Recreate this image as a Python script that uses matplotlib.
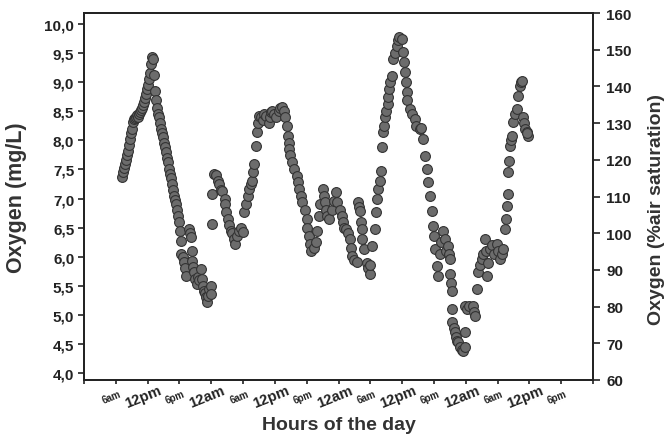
import matplotlib
matplotlib.use("Agg")
import matplotlib.pyplot as plt
from matplotlib.transforms import ScaledTranslation

plt.rcParams['font.family'] = ['Liberation Sans', 'DejaVu Sans']
plt.rcParams['font.weight'] = 'bold'

# ---- data (hours since first midnight, oxygen mg/L) ----
hours = [
    7.2, 7.4, 7.6, 7.7, 7.9, 8.1, 8.3, 8.5, 8.7, 8.9, 9.1, 9.3, 9.5, 9.6, 9.8, 10.0, 10.2, 10.4, 10.6, 10.8,
    11.0, 11.2, 11.3, 11.5, 11.7, 11.9, 12.1, 12.3, 12.5, 12.7, 12.85, 13.0, 13.2, 13.4, 13.6, 13.8, 14.0, 14.2,
    14.4, 14.5, 14.7, 14.9, 15.1, 15.3, 15.5, 15.7, 15.9, 16.1, 16.2, 16.4, 16.6, 16.8, 17.0, 17.2, 17.4, 17.6,
    17.8, 17.9, 18.1, 18.3, 18.3, 18.6, 18.9, 19.1, 19.3, 19.8, 20.0, 20.2, 20.4, 20.4, 20.6, 20.8, 21.0, 21.3,
    21.5, 21.7, 22.1, 22.3, 22.5, 22.7, 22.9, 23.1, 23.2, 23.3, 23.6, 24.0, 24.0,
    24.2, 24.2, 24.6, 24.9, 25.3, 25.5, 25.9, 26.1, 26.5, 26.6, 26.8, 27.2, 27.4, 27.8, 28.0, 28.35, 28.5, 28.9,
    29.3, 29.7, 29.9, 30.2, 30.6, 31.0, 31.2, 31.5, 31.75, 31.9, 32.1, 32.5, 32.7, 32.9, 33.1, 33.4, 33.8, 34.0,
    34.4, 34.8, 35.0, 35.3, 35.5, 35.9, 36.3, 36.7, 37.0, 37.4, 37.8, 38.0, 38.2, 38.4, 38.6, 38.7, 38.9, 39.3,
    39.7, 40.1, 40.3, 40.6, 41.0, 41.2, 41.6, 42.0, 42.1, 42.5, 42.7, 42.9, 43.3, 43.8, 44.0, 44.4, 44.6, 45.0,
    45.2, 45.4, 45.7, 45.9, 46.3, 46.7, 47.1, 47.6, 47.8, 48.2, 48.6, 48.9, 49.1, 49.5, 49.7, 50.1, 50.3, 50.6,
    51.0, 51.4, 51.6, 51.8, 52.0, 52.2, 52.35, 52.5, 52.9, 53.3, 53.5, 53.9, 54.0, 54.4, 54.8, 55.0, 55.2, 55.4,
    55.75, 56.1, 56.15, 56.3, 56.5, 56.7, 56.9, 57.3, 57.4, 57.6, 57.8, 58.0, 58.2, 58.6, 59.0, 59.3, 59.5, 59.9,
    60.1, 60.3, 60.5, 60.7, 60.85, 61.0, 61.4, 61.8, 62.4, 62.7, 63.3,
    63.5, 63.9, 64.25, 64.6, 64.8, 65.2, 65.6, 65.8, 66.1, 66.15, 66.5, 66.7, 67.1, 67.3, 67.65, 68.0, 68.2, 68.6,
    68.8, 69.0, 69.0, 69.2, 69.35, 69.4, 69.5, 69.7, 69.9, 70.1, 70.3, 70.5, 70.9, 71.2, 71.4, 71.8, 71.8, 71.85,
    72.2, 72.6, 73.3, 73.5, 73.7, 74.1, 74.3, 74.65, 75.0, 75.2, 75.6, 75.8, 76.0, 76.2, 76.5, 76.9, 77.3, 77.9,
    78.1, 78.4, 78.8, 79.0, 79.4, 79.6, 79.75, 79.9, 79.95, 80.1, 80.3, 80.5, 80.7, 80.9, 81.3, 81.6, 81.8, 82.2,
    82.4, 82.6, 82.8, 83.0, 83.2, 83.5, 83.7, 83.6,
]
oxygen_mgL = [
    7.37, 7.45, 7.52, 7.60, 7.66, 7.74, 7.82, 7.92, 8.02, 8.12, 8.20, 8.32, 8.36, 8.38, 8.40, 8.43, 8.40, 8.46, 8.48, 8.52,
    8.55, 8.60, 8.66, 8.72, 8.80, 8.88, 8.96, 9.06, 9.15, 9.32, 9.43, 9.40, 9.12, 8.85, 8.70, 8.55, 8.46, 8.40,
    8.30, 8.20, 8.12, 8.05, 7.95, 7.88, 7.80, 7.70, 7.62, 7.50, 7.42, 7.35, 7.25, 7.15, 7.05, 6.98, 6.90, 6.80,
    6.70, 6.60, 6.45, 6.27, 6.05, 6.00, 5.91, 5.80, 5.67, 6.48, 6.40, 6.34, 6.10, 5.93, 5.82, 5.74, 5.62, 5.53,
    5.65, 5.60, 5.79, 5.62, 5.50, 5.41, 5.38, 5.30, 5.22, 5.33, 5.45, 5.50, 5.36,
    6.56, 7.08, 7.42, 7.40, 7.30, 7.25, 7.15, 7.13, 7.00, 6.90, 6.77, 6.65, 6.55, 6.45, 6.40, 6.30, 6.22, 6.35,
    6.45, 6.50, 6.42, 6.77, 6.90, 7.05, 7.16, 7.25, 7.30, 7.45, 7.60, 7.90, 8.14, 8.30, 8.42, 8.40, 8.35, 8.45,
    8.42, 8.30, 8.40, 8.48, 8.50, 8.45, 8.40, 8.50, 8.55, 8.57, 8.50, 8.40, 8.25, 8.07, 7.95, 7.85, 7.75, 7.63,
    7.50, 7.39, 7.28, 7.16, 7.05, 6.94, 6.80, 6.65, 6.50, 6.36, 6.22, 6.10, 6.15, 6.25, 6.45, 6.70, 6.90, 7.16,
    7.05, 6.94, 6.80, 6.70, 6.65, 6.80, 6.95, 7.11, 6.94, 6.80, 6.70, 6.60, 6.50, 6.48, 6.40, 6.30, 6.15, 6.01,
    5.95, 5.91, 6.94, 6.85, 6.78, 6.60, 6.48, 6.30, 6.13, 5.90, 5.80, 5.70, 5.85, 6.18, 6.48, 6.77, 7.00, 7.16,
    7.30, 7.47, 7.88, 8.14, 8.25, 8.40, 8.50, 8.62, 8.75, 8.88, 9.00, 9.11, 9.40, 9.50, 9.62, 9.72, 9.78, 9.75,
    9.52, 9.35, 9.17, 9.00, 8.83, 8.70, 8.54, 8.45, 8.37, 8.25, 8.19,
    8.22, 8.02, 7.73, 7.51, 7.28, 7.04, 6.78, 6.53, 6.36, 6.13, 5.84, 5.67, 6.05, 6.25, 6.44, 6.30, 6.10, 6.18,
    6.05, 5.96, 5.70, 5.55, 5.41, 5.10, 4.88, 4.78, 4.70, 4.62, 4.55, 4.53, 4.45, 4.40, 4.38, 4.45, 4.70, 5.15,
    5.10, 5.15, 5.15, 5.05, 4.98, 5.44, 5.74, 5.85, 5.96, 6.05, 6.30, 6.10, 5.67, 5.90, 6.13, 6.20, 6.05, 6.22,
    6.10, 5.96, 6.05, 6.13, 6.48, 6.65, 6.87, 7.08, 7.46, 7.64, 7.90, 8.00, 8.07, 8.31, 8.45, 8.54, 8.76, 8.93,
    9.00, 9.02, 8.40, 8.30, 8.20, 8.14, 8.08, 8.12,
]

x_ticks = list(range(0, 97, 6))
x_tick_labels = ['', '6am', '12pm', '6pm', '12am', '6am', '12pm', '6pm', '12am',
                 '6am', '12pm', '6pm', '12am', '6am', '12pm', '6pm', '']
left_ticks = [4.0, 4.5, 5.0, 5.5, 6.0, 6.5, 7.0, 7.5, 8.0, 8.5, 9.0, 9.5, 10.0]
left_tick_labels = ['4,0', '4,5', '5,0', '5,5', '6,0', '6,5', '7,0', '7,5', '8,0', '8,5', '9,0', '9,5', '10,0']
right_ticks = [60, 70, 80, 90, 100, 110, 120, 130, 140, 150, 160]

fig = plt.figure(figsize=(6.67, 4.39), dpi=100)
ax = fig.add_axes([84/667, 1 - 381/439, (593-84)/667, (381-14)/439])

ax.scatter(hours, oxygen_mgL, s=50, facecolor='#6c6c6c', edgecolor='#333333',
           linewidths=0.8, zorder=3)

ax.set_xlim(0, 96)
ax.set_ylim(3.88, 10.19)
ax.set_yticks(left_ticks)
ax.set_yticklabels(left_tick_labels, fontsize=11, fontweight='bold', color='#222222')
ax.set_xticks(x_ticks)
ax.set_xticklabels(x_tick_labels, rotation=22, ha='center', va='center', fontweight='bold')
ax.tick_params(axis='x', length=3, width=1.2, pad=9, colors='#222222')
ax.tick_params(axis='y', length=4, width=1.2, pad=3, colors='#222222')
for lab in ax.get_xticklabels():
    if lab.get_text().startswith('12'):
        lab.set_fontsize(10.5)
    else:
        lab.set_fontsize(7)
    lab.set_transform(lab.get_transform() + ScaledTranslation(-4/100, 0, fig.dpi_scale_trans))

for sp in ax.spines.values():
    sp.set_linewidth(1.3)
    sp.set_color('#222222')

ax.set_ylabel('Oxygen (mg/L)', fontsize=15.5, fontweight='bold', color='#333333')
ax.yaxis.set_label_coords(-0.112, 0.5)
ax.set_xlabel('Hours of the day', fontsize=14, fontweight='bold', color='#333333')
ax.xaxis.set_label_coords(0.5, -0.098)

ax2 = ax.twinx()
ax2.set_ylim(60, 160)
ax2.set_yticks(right_ticks)
ax2.set_yticklabels([str(t) for t in right_ticks], fontsize=11, fontweight='bold', color='#222222')
ax2.tick_params(axis='y', length=5, width=1.2, pad=4.5, colors='#222222')
for sp in ax2.spines.values():
    sp.set_linewidth(1.3)
    sp.set_color('#222222')
ax2.set_ylabel('Oxygen (%air saturation)', fontsize=14, fontweight='bold', color='#333333')
ax2.yaxis.set_label_coords(1.108, 0.466)

fig.savefig('out.png', dpi=100, facecolor='white')
